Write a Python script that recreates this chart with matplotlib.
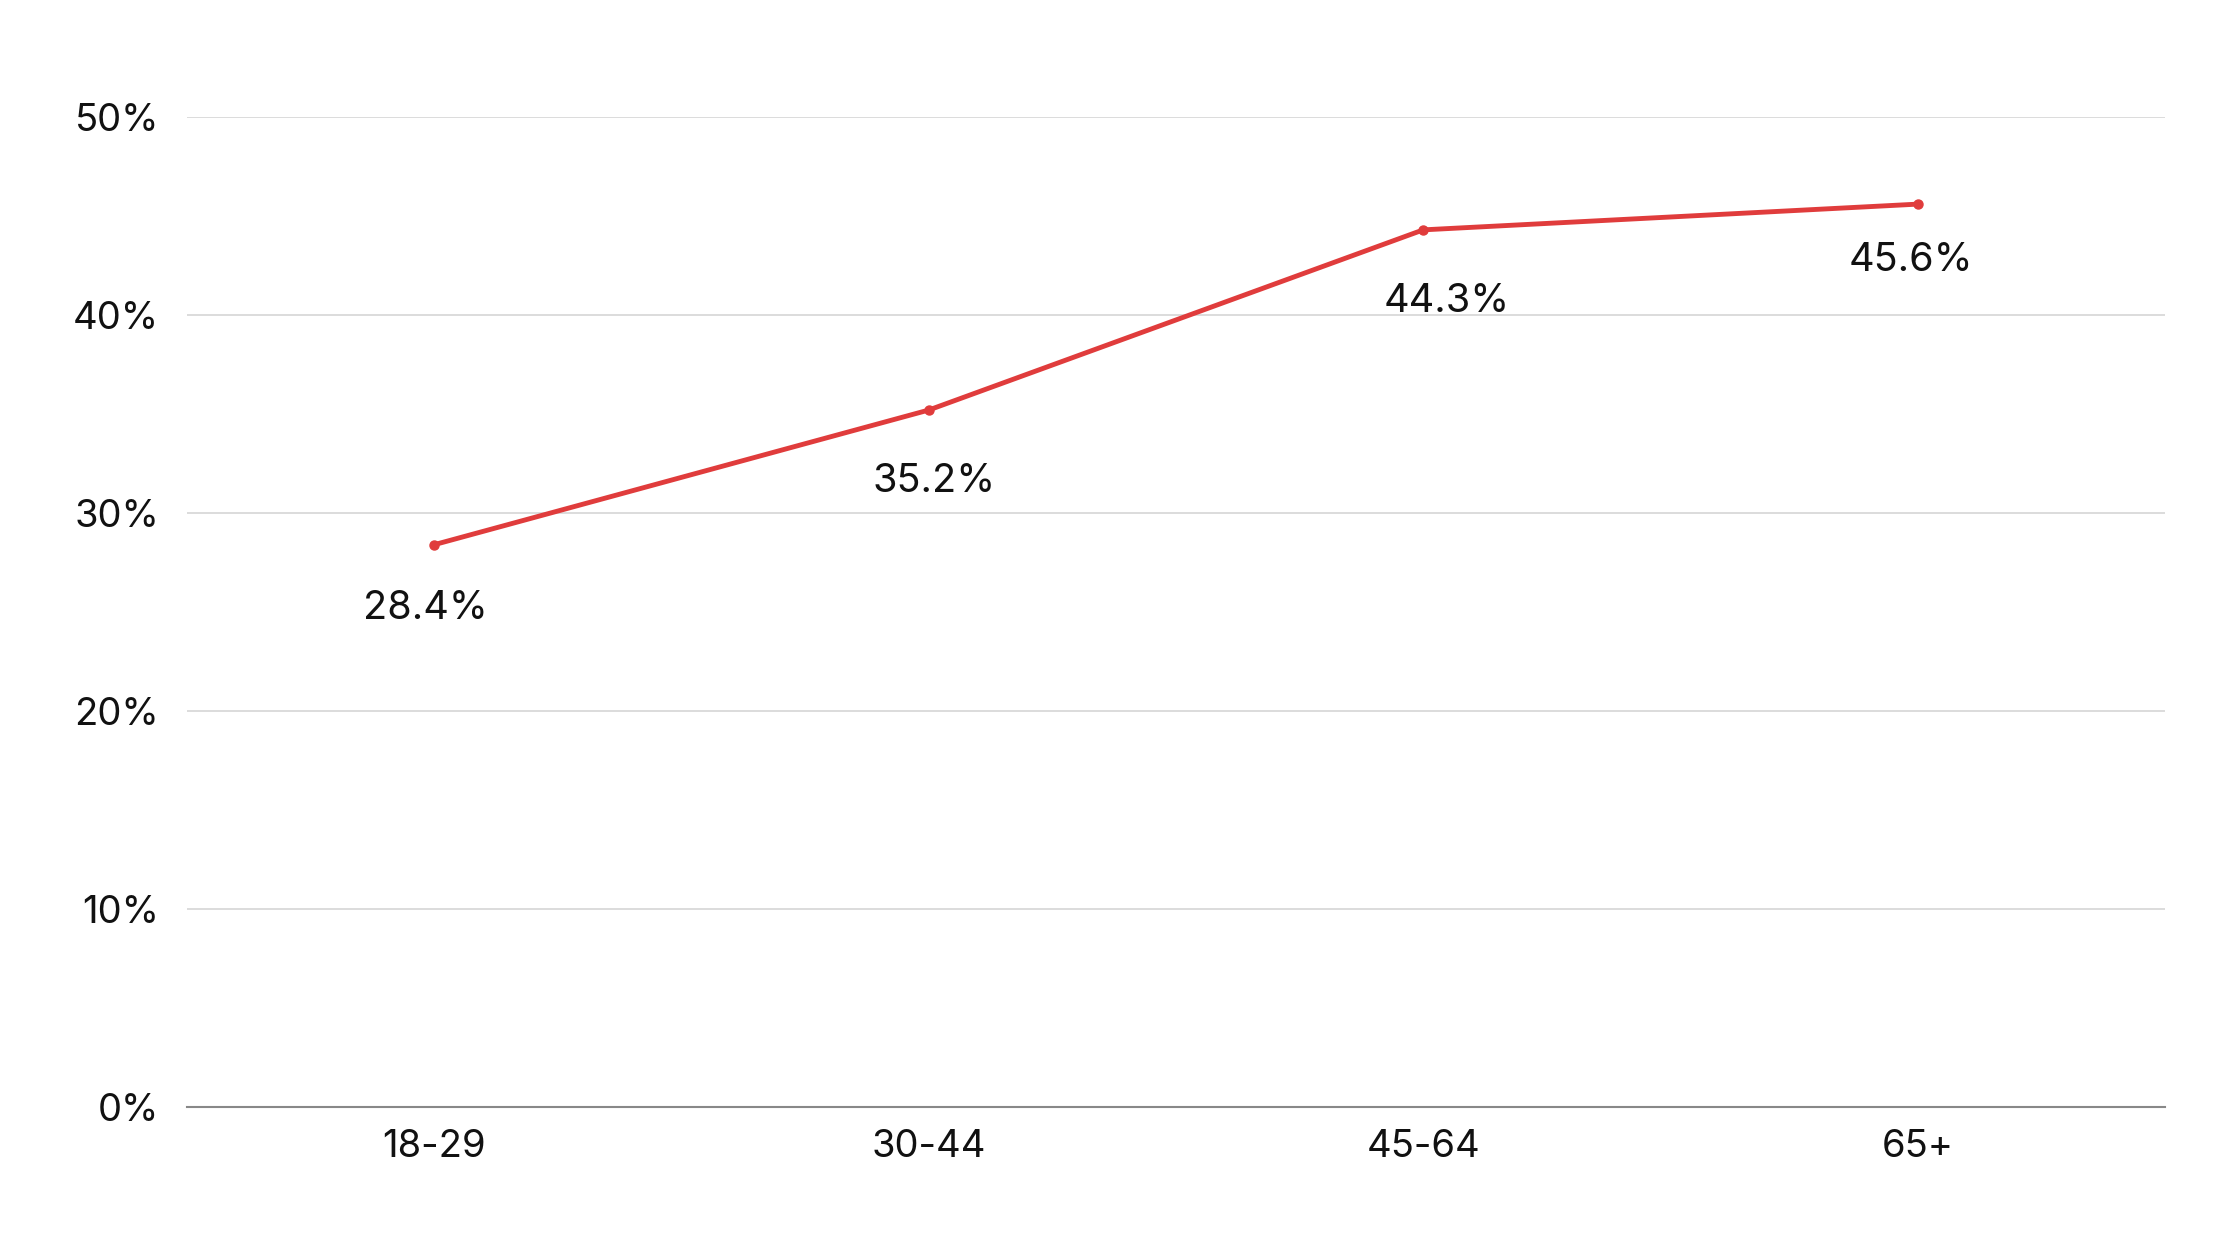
import matplotlib
matplotlib.use("Agg")
import matplotlib.pyplot as plt
from matplotlib.ticker import FuncFormatter

categories = ["18-29", "30-44", "45-64", "65+"]
values = [28.4, 35.2, 44.3, 45.6]
label_texts = ["28.4%", "35.2%", "44.3%", "45.6%"]
label_dx = [-9, 5, 24, -7]      # pixel offsets of value labels
label_dy = [-64, -71, -72, -56]
yticks = [0, 10, 20, 30, 40, 50]

plt.rcParams['font.family'] = ['Inter', 'DejaVu Sans']

fig = plt.figure(figsize=(22.4, 12.6), dpi=100)
ax = fig.add_axes([187/2240, 1-1107/1260, (2165-187)/2240, (1107-117)/1260])

x = list(range(len(categories)))
ax.plot(x, values, color="#E03C3C", lw=3.5, marker="o", ms=6.5, clip_on=False, zorder=3)

for xi, v, t, dx, dy in zip(x, values, label_texts, label_dx, label_dy):
    ax.annotate(t, (xi, v), xytext=(dx*0.72, dy*0.72), textcoords="offset points",
                ha="center", va="center", fontsize=28.5, color="#111111")

ax.set_xlim(-0.5, len(categories)-0.5)
ax.set_ylim(0, 50)
ax.set_yticks(yticks)
ax.yaxis.set_major_formatter(FuncFormatter(lambda v, p: f"{v:.0f}%"))
ax.set_xticks(x)
ax.set_xticklabels(categories)

ax.grid(axis="y", color="#d9d9d9", lw=1.3)
ax.set_axisbelow(True)
for s in ["top", "right", "left"]:
    ax.spines[s].set_visible(False)
ax.spines["bottom"].set_color("#888888")
ax.spines["bottom"].set_linewidth(1.5)
ax.tick_params(axis="both", length=0, labelsize=27.5, colors="#111111")
ax.tick_params(axis="y", pad=20)
ax.tick_params(axis="x", pad=16)

fig.savefig("out.png", dpi=100, facecolor="white")
